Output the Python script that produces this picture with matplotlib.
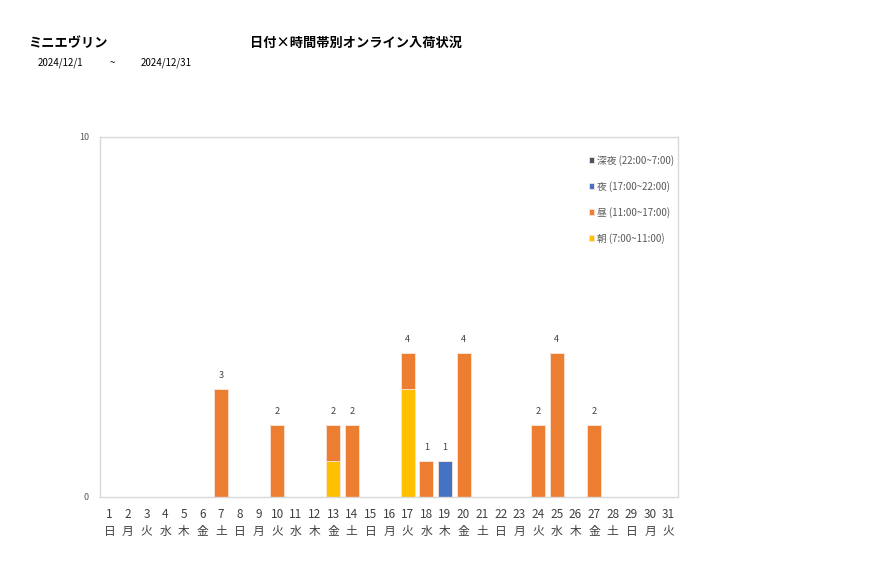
import matplotlib
matplotlib.use("Agg")
import matplotlib.pyplot as plt
import numpy as np

plt.rcParams["font.family"] = ["Noto Sans CJK JP", "DejaVu Sans"]

# data
days = list(range(1, 32))
weekdays = ["日", "月", "火", "水", "木", "金", "土"] * 5
weekdays = weekdays[:31]
asa = [0, 0, 0, 0, 0, 0, 0, 0, 0, 0, 0, 0, 1, 0, 0, 0, 3, 0, 0, 0, 0, 0, 0, 0, 0, 0, 0, 0, 0, 0, 0]
hiru = [0, 0, 0, 0, 0, 0, 3, 0, 0, 2, 0, 0, 1, 2, 0, 0, 1, 1, 0, 4, 0, 0, 0, 2, 4, 0, 2, 0, 0, 0, 0]
yoru = [0, 0, 0, 0, 0, 0, 0, 0, 0, 0, 0, 0, 0, 0, 0, 0, 0, 0, 1, 0, 0, 0, 0, 0, 0, 0, 0, 0, 0, 0, 0]
shinya = [0] * 31
series = [("朝 (7:00~11:00)", asa, "#FFC000"),
          ("昼 (11:00~17:00)", hiru, "#ED7D31"),
          ("夜 (17:00~22:00)", yoru, "#4472C4"),
          ("深夜 (22:00~7:00)", shinya, "#44546A")]
shop = "ミニエヴリン"
title = "日付×時間帯別オンライン入荷状況"
date_from, date_to = "2024/12/1", "2024/12/31"

fig = plt.figure(figsize=(8.77, 5.78), dpi=100)
ax = fig.add_axes([100 / 877, 81 / 578, 578 / 877, 360 / 578])

x = np.array(days)
bottom = np.zeros(31)
handles = []
for label, vals, color in series:
    v = np.array(vals, dtype=float)
    h = ax.bar(x, v, 0.75, bottom=bottom, color=color, edgecolor="#FBE3D6",
               linewidth=0.6, label=label)
    handles.append(h)
    bottom += v

for xi, tot in zip(x, bottom):
    if tot > 0:
        ax.text(xi, tot + 0.25, f"{int(tot)}", ha="center", va="bottom",
                fontsize=6.5, color="#404040")

ax.set_xlim(0.5, 31.5)
ax.set_ylim(0, 10)
ax.set_yticks([0, 10])
ax.set_xticks(x)
ax.set_xticklabels([f"{d}\n{w}" for d, w in zip(days, weekdays)],
                   fontsize=8.5, color="#404040", linespacing=1.35)
ax.tick_params(axis="x", length=0, pad=8)
ax.tick_params(axis="y", length=0, labelsize=6.5, labelcolor="#595959", pad=8)
for s in ax.spines.values():
    s.set_color("#D9D9D9")
    s.set_linewidth(1.0)

ax.legend(handles=handles[::-1], loc="upper left", bbox_to_anchor=(0.84, 0.962),
          frameon=False, fontsize=7, handlelength=0.5, handleheight=0.5,
          handletextpad=0.3, labelspacing=1.55, labelcolor="#595959",
          borderaxespad=0)

fig.text(28 / 877, 1 - 43 / 578, shop, fontsize=9.5, fontweight="bold", va="center")
fig.text(250 / 877, 1 - 43 / 578, title, fontsize=9.5, fontweight="bold", va="center")
fig.text(38 / 877, 1 - 63 / 578, date_from, fontsize=7, va="center")
fig.text(110 / 877, 1 - 63 / 578, "~", fontsize=7, va="center")
fig.text(141 / 877, 1 - 63 / 578, date_to, fontsize=7, va="center")

fig.savefig("out.png", dpi=100)
